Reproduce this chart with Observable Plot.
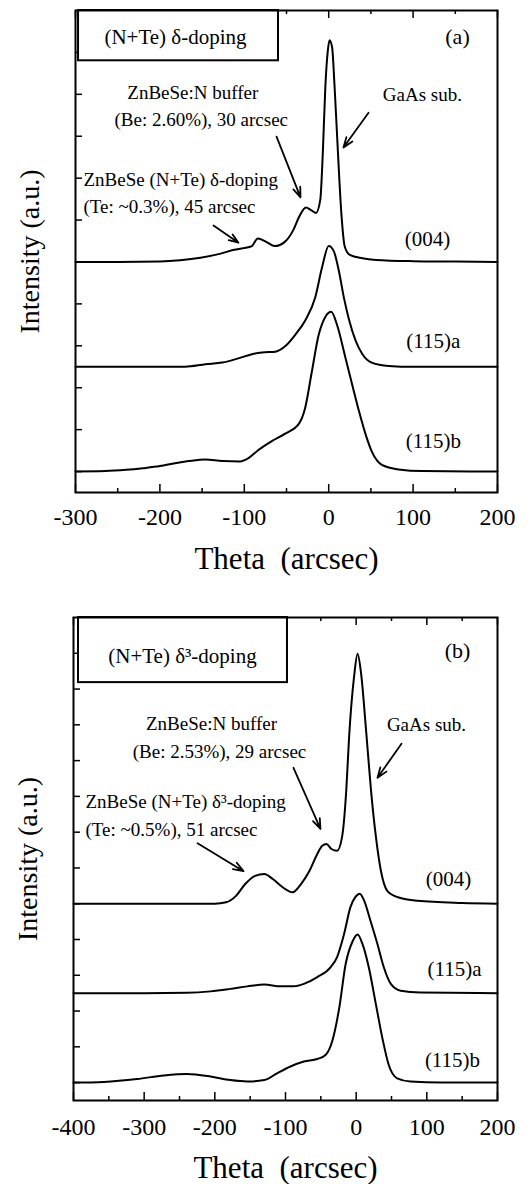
<!DOCTYPE html>
<html><head><meta charset="utf-8">
<script src="https://cdn.jsdelivr.net/npm/d3@7"></script>
<script src="https://cdn.jsdelivr.net/npm/@observablehq/plot@0.6"></script>
<style>
body{margin:0;background:#fff;}
#chart{width:532px;}
#chart svg{display:block;font-family:"Liberation Serif", serif !important;}
#chart svg text{font-family:"Liberation Serif", serif !important;}
</style>
</head><body><div id="chart"></div>
<script>
// ---------- Panel (a): (N+Te) delta-doping ----------
const A_X_004 = [-300,-250,-200,-176,-152,-128,-112,-101,-91,-84,-74,-64,-52,-42,-35,-27,-21,-15,-10,-7,-4,-1,1,4,7,11,15,19,25,40,56,100,150,200];
const A_I_004 = [0,0,0.01,0.04,0.1,0.2,0.29,0.33,0.38,0.56,0.48,0.38,0.48,0.76,1.08,1.3,1.24,1.17,1.48,2.59,4.17,5.05,5.29,5.13,4.17,2.59,1.16,0.37,0.17,0.09,0.05,0.02,0.01,0];
const A_X_115A = [-300,-200,-170,-146,-126,-107,-91,-79,-63,-51,-39,-28,-16,-8,0,6,12,18,24,32,40,51,71,100,200];
const A_I_115A = [0,0,0,0.06,0.1,0.2,0.3,0.34,0.36,0.5,0.78,1.1,1.65,2.36,2.88,2.76,2.29,1.65,1.13,0.62,0.3,0.1,0.02,0,0];
const A_X_115B = [-300,-265,-240,-220,-200,-182,-166,-146,-126,-105,-95,-83,-67,-51,-35,-28,-20,-12,-4,3,10,20,28,36,44,51,63,83,111,200];
const A_I_115B = [0,0.01,0.04,0.08,0.13,0.2,0.25,0.29,0.25,0.24,0.32,0.52,0.73,0.91,1.15,1.51,2.38,3.25,3.69,3.81,3.49,2.7,2.06,1.43,0.87,0.48,0.16,0.05,0.01,0];

// ---------- Panel (b): (N+Te) delta^3-doping ----------
const B_X_004 = [-400,-300,-200,-184,-170,-157,-143,-130,-118,-104,-90,-78,-66,-55,-48,-42,-35,-27,-20,-14,-10,-3,2,7,14,21,28,35,44,59,87,150,200];
const B_I_004 = [0,0,0,0.04,0.22,0.55,0.78,0.83,0.69,0.46,0.32,0.55,0.92,1.39,1.62,1.67,1.53,1.48,1.86,3.17,4.66,6.34,6.99,6.43,4.85,3.17,1.86,0.92,0.36,0.18,0.08,0.02,0];
const B_X_115A = [-400,-300,-240,-206,-178,-154,-130,-107,-88,-74,-55,-36,-27,-17,-8,-1,5,11,20,30,39,49,63,91,200];
const B_I_115A = [0,0,0.01,0.05,0.12,0.19,0.24,0.19,0.19,0.26,0.45,0.73,1.01,1.66,2.41,2.69,2.78,2.6,2.04,1.38,0.73,0.26,0.07,0.02,0];
const B_X_115B = [-400,-357,-310,-272,-239,-206,-178,-154,-130,-112,-93,-74,-55,-43,-34,-24,-15,-5,2,9,18,28,37,46,58,77,120,200];
const B_I_115B = [0,0.02,0.1,0.2,0.24,0.17,0.07,0.03,0.07,0.26,0.45,0.59,0.66,0.78,1.15,2.08,3.3,3.95,4.14,3.87,3.21,2.18,1.25,0.5,0.12,0.03,0,0];

// vertical offsets of the stacked scans
const SERIES = ["(004)", "(115)a", "(115)b"];
const OFFSETS = [5, 2.5, 0];

// ticks
const A_XTICKS = [-300,-200,-100,0,100,200];
const A_XMINOR = [-250,-150,-50,50,150];
const B_XTICKS = [-400,-300,-200,-100,0,100,200];
const B_XMINOR = [-350,-250,-150,-50,50,150];
const A_YTICKS = [0,1,2,3,4,5,6,7,8,9,10];
const B_YTICKS = [0,1,2,3,4,5,6,7,8,9,10,11,12];

const X_LABEL = "Theta\u00a0\u00a0(arcsec)";
const Y_LABEL = "Intensity (a.u.)";

const FONT = "Liberation Serif, serif";

function buildPanel(p) {
  const W = 532;
  const innerW = W - p.ml - p.mr;
  const innerH = p.height - p.mt - p.mb;
  const rows = [];
  p.curves.forEach((c, k) => c.x.forEach((x, i) => rows.push({series: SERIES[k], x, y: OFFSETS[k] + c.v[i]})));
  const tickStyle = {stroke: "black", strokeWidth: 1.5};
  const tx = {fontFamily: FONT, fill: "black"};
  return Plot.plot({
    width: W, height: p.height,
    marginLeft: p.ml, marginRight: p.mr, marginTop: p.mt, marginBottom: p.mb,
    x: {domain: p.xDomain},
    y: {domain: p.yDomain, axis: null},
    style: {fontFamily: FONT, background: "white", color: "black"},
    marks: [
      Plot.line(rows, {x: "x", y: "y", z: "series", curve: "monotone-x", stroke: "black", strokeWidth: 2}),
      Plot.tickX(p.xMajor, {x: d => d, insetTop: innerH - 8, ...tickStyle}),
      Plot.tickX(p.xMinor, {x: d => d, insetTop: innerH - 4, ...tickStyle}),
      Plot.tickX(p.xMajor, {x: d => d, insetBottom: innerH - 8, ...tickStyle}),
      Plot.tickX(p.xMinor, {x: d => d, insetBottom: innerH - 4, ...tickStyle}),
      Plot.tickY(p.yTicks, {y: d => d, insetRight: innerW - 7, ...tickStyle}),
      Plot.rect([p.box], {x1: "x1", x2: "x2", y1: "y1", y2: "y2", fill: "white", stroke: "black", strokeWidth: 2}),
      Plot.text([p.box], {x: "tx", y: "ty", text: "text", fontSize: 21, lineAnchor: "bottom", ...tx}),
      Plot.text([p.panel], {x: "x", y: "y", text: "text", fontSize: 22, lineAnchor: "bottom", ...tx}),
      Plot.text(p.notesMid, {x: "x", y: "y", text: "text", fontSize: 19, lineAnchor: "bottom", ...tx}),
      Plot.text(p.notesStart, {x: "x", y: "y", text: "text", fontSize: 19, lineAnchor: "bottom", textAnchor: "start", ...tx}),
      Plot.text(p.labels, {x: "x", y: "y", text: "text", fontSize: 21, lineAnchor: "bottom", ...tx}),
      Plot.arrow(p.arrows, {x1: "x1", y1: "y1", x2: "x2", y2: "y2", stroke: "black", strokeWidth: 1.8, headLength: 9, headAngle: 40}),
      Plot.axisX(p.xMajor, {tickSize: 0, tickPadding: p.tickPad, fontSize: 24, tickFormat: d => String(d), ...tx}),
      Plot.text([X_LABEL], {frameAnchor: "bottom", dy: p.xlabDy, fontSize: 31, lineAnchor: "bottom", textAnchor: "middle", ...tx}),
      Plot.text([Y_LABEL], {frameAnchor: "left", rotate: -90, dx: -45, fontSize: 28, lineAnchor: "middle", textAnchor: "middle", ...tx}),
      Plot.frame({stroke: "black", strokeWidth: 2})
    ]
  });
}

const panelA = buildPanel({
  height: 580, ml: 75, mr: 35, mt: 10, mb: 88,
  xDomain: [-300, 200], yDomain: [-0.5, 11],
  curves: [{x: A_X_004, v: A_I_004}, {x: A_X_115A, v: A_I_115A}, {x: A_X_115B, v: A_I_115B}],
  xMajor: A_XTICKS, xMinor: A_XMINOR, yTicks: A_YTICKS,
  tickPad: 15, xlabDy: 76,
  box: {x1: -296.4, x2: -59.5, y1: 9.8, y2: 11, tx: -181.5, ty: 10.2, text: "(N+Te) δ-doping"},
  panel: {x: 152.6, y: 10.2, text: "(a)"},
  notesMid: [
    {x: -161, y: 8.89, text: "ZnBeSe:N buffer"},
    {x: -151, y: 8.25, text: "(Be: 2.60%), 30 arcsec"},
    {x: 111, y: 8.85, text: "GaAs sub."}
  ],
  notesStart: [
    {x: -290.5, y: 6.82, text: "ZnBeSe (N+Te) δ-doping"},
    {x: -290.5, y: 6.18, text: "(Te: ~0.3%), 45 arcsec"}
  ],
  labels: [
    {x: 117, y: 5.39, text: "(004)"},
    {x: 124, y: 2.94, text: "(115)a"},
    {x: 124, y: 0.56, text: "(115)b"}
  ],
  arrows: [
    {x1: -61.8, y1: 7.99, x2: -33.4, y2: 6.54},
    {x1: -136.5, y1: 5.87, x2: -106.9, y2: 5.46},
    {x1: 47.2, y1: 8.56, x2: 17.5, y2: 7.73}
  ]
});

const panelB = buildPanel({
  height: 604, ml: 73, mr: 35, mt: 37, mb: 84,
  xDomain: [-400, 200], yDomain: [-0.5, 13],
  curves: [{x: B_X_004, v: B_I_004}, {x: B_X_115A, v: B_I_115A}, {x: B_X_115B, v: B_I_115B}],
  xMajor: B_XTICKS, xMinor: B_XMINOR, yTicks: B_YTICKS,
  tickPad: 17, xlabDy: 77,
  box: {x1: -392.9, x2: -97.2, y1: 11.18, y2: 13, tx: -245.8, ty: 11.74, text: "(N+Te) δ³-doping"},
  panel: {x: 143.4, y: 11.88, text: "(b)"},
  notesMid: [
    {x: -204.7, y: 9.86, text: "ZnBeSe:N buffer"},
    {x: -193.4, y: 9.08, text: "(Be: 2.53%), 29 arcsec"},
    {x: 99.5, y: 9.83, text: "GaAs sub."}
  ],
  notesStart: [
    {x: -383, y: 7.68, text: "ZnBeSe (N+Te) δ³-doping"},
    {x: -383, y: 6.89, text: "(Te: ~0.5%), 51 arcsec"}
  ],
  labels: [
    {x: 130.6, y: 5.49, text: "(004)"},
    {x: 139.1, y: 2.97, text: "(115)a"},
    {x: 136.3, y: 0.45, text: "(115)b"}
  ],
  arrows: [
    {x1: -88.7, y1: 8.80, x2: -50.5, y2: 7.09},
    {x1: -224.5, y1: 6.69, x2: -159.4, y2: 5.91},
    {x1: 64.1, y1: 9.47, x2: 30.2, y2: 8.52}
  ]
});

const chart = document.getElementById("chart");
chart.appendChild(panelA);
chart.appendChild(panelB);
</script>
</body></html>
